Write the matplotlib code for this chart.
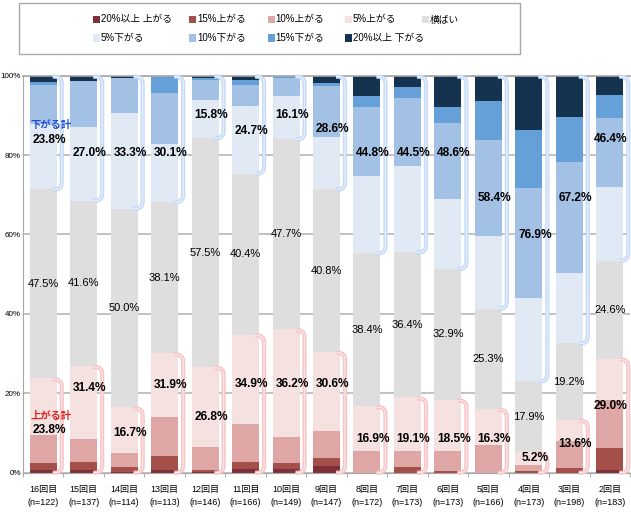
import matplotlib.pyplot as plt
import numpy as np
from matplotlib.path import Path
from matplotlib.patches import PathPatch, Rectangle
from matplotlib.transforms import IdentityTransform

plt.rcParams['font.family'] = ['Liberation Sans', 'Noto Sans CJK JP']

rounds = ['16回目', '15回目', '14回目', '13回目', '12回目', '11回目', '10回目', '9回目',
          '8回目', '7回目', '6回目', '5回目', '4回目', '3回目', '2回目']
n_resp = [122, 137, 114, 113, 146, 166, 149, 147, 172, 173, 173, 166, 173, 198, 183]

series_names = ['20%以上 上がる', '15%上がる', '10%上がる', '5%上がる', '横ばい',
                '5%下がる', '10%下がる', '15%下がる', '20%以上 下がる']

# stacked shares, bottom to top
up20 = [0.8, 0.6, 0.3, 0.8, 0.3, 0.9, 0.9, 1.7, 0.0, 0.0, 0.0, 0.0, 0.0, 0.0, 0.7]
up15 = [1.6, 2.1, 1.1, 3.4, 0.5, 1.8, 1.6, 2.1, 0.0, 1.5, 0.5, 0.0, 0.5, 1.2, 5.6]
up10 = [7.1, 5.8, 3.6, 9.7, 5.7, 9.6, 6.5, 6.7, 5.5, 4.0, 5.0, 7.0, 1.4, 6.8, 11.9]
up5 = [14.2, 18.3, 11.4, 16.1, 20.1, 22.4, 27.0, 19.9, 11.2, 13.4, 12.9, 9.1, 3.2, 5.3, 10.5]
flat = [47.5, 41.6, 50.0, 38.1, 57.5, 40.4, 47.7, 40.8, 38.4, 36.4, 32.9, 25.3, 17.9, 19.2, 24.6]
dn5 = [16.4, 18.4, 24.0, 14.6, 9.6, 16.9, 11.0, 13.1, 19.5, 21.7, 17.5, 18.3, 20.9, 17.7, 18.5]
dn10 = [9.9, 11.7, 8.8, 12.9, 4.9, 5.4, 4.4, 13.0, 17.2, 17.0, 19.2, 24.2, 27.7, 27.9, 17.3]
dn15 = [0.7, 0.0, 0.0, 4.3, 0.6, 1.3, 0.6, 0.7, 2.8, 2.8, 4.0, 9.8, 14.7, 11.2, 5.8]
dn20 = [1.6, 1.3, 0.6, 0.0, 0.6, 1.0, 0.0, 1.8, 5.1, 2.8, 7.9, 6.4, 13.7, 10.4, 4.9]

# printed totals
up_total = [23.8, 31.4, 16.7, 31.9, 26.8, 34.9, 36.2, 30.6, 16.9, 19.1, 18.5, 16.3, 5.2, 13.6, 29.0]
down_total = [23.8, 27.0, 33.3, 30.1, 15.8, 24.7, 16.1, 28.6, 44.8, 44.5, 48.6, 58.4, 76.9, 67.2, 46.4]

# where the total labels sit (in % of the axis)
up_lbl_y = [10.8, 21.3, 10.1, 22.0, 14.0, 22.4, 22.4, 22.4, 8.5, 8.5, 8.5, 8.5, 3.8, 7.2, 16.7]
down_lbl_y = [83.9, 80.5, 80.5, 80.5, 90.2, 86.0, 90.2, 86.5, 80.5, 80.5, 80.5, 69.3, 59.8, 69.3, 84.0]

colors = ['#7e2f39', '#a54f4b', '#dea6a5', '#f6e1e1', '#dedede',
          '#e1e9f4', '#a3c1e5', '#65a0d8', '#15324f']

W, H = 631, 513
fig = plt.figure(figsize=(W / 100, H / 100), dpi=100)
ax = fig.add_axes([23 / W, 40.3 / H, 607 / W, 397 / H])

data = np.array([up20, up15, up10, up5, flat, dn5, dn10, dn15, dn20])
data = data / data.sum(axis=0) * 100  # 100% stacked
x = np.arange(len(rounds))
bw = 0.667
bottom = np.zeros(len(rounds))
for vals, col in zip(data, colors):
    ax.bar(x, vals, bw, bottom=bottom, color=col, linewidth=0, zorder=2)
    bottom += vals

ax.set_xlim(-0.5, len(rounds) - 0.5)
ax.set_ylim(0, 100)
ax.set_yticks(range(0, 101, 20))
ax.set_yticklabels([f'{v}%' for v in range(0, 101, 20)], fontsize=5.8)
ax.set_xticks(x)
ax.set_xticklabels([f'{r}\n(n={n})' for r, n in zip(rounds, n_resp)], fontsize=6.5, linespacing=1.6)
ax.set_xticks(np.arange(-0.5, len(rounds)), minor=True)
ax.tick_params(axis='x', which='major', length=0, pad=9)
ax.tick_params(axis='x', which='minor', length=3, color='#a0a0a0')
ax.tick_params(axis='y', length=1, color='#a0a0a0', pad=0.5)
ax.yaxis.grid(True, color='#b8b8b8', linewidth=1.2)
ax.set_axisbelow(True)
for s in ['left', 'bottom', 'top']:
    ax.spines[s].set_color('#a8a8a8')
ax.spines['top'].set_linewidth(1.2)
ax.spines['right'].set_visible(False)

cum_up = data[:4].sum(axis=0)
cum_flat = data[:5].sum(axis=0)


def bracket(xr_data, y0, y1, c_out, c_in):
    xr, yb = ax.transData.transform((xr_data, y0))
    _, yt = ax.transData.transform((xr_data, y1))
    yt -= 1
    r, off = 7, 5
    xv = xr + off
    verts = [(xr - 4, yt), (xv - r, yt), (xv, yt), (xv, yt - r),
             (xv, yb + r), (xv, yb), (xv - r, yb), (xr - 4, yb)]
    codes = [Path.MOVETO, Path.LINETO, Path.CURVE3, Path.CURVE3,
             Path.LINETO, Path.CURVE3, Path.CURVE3, Path.LINETO]
    p = Path(verts, codes)
    for c, lw in [(c_out, 3.0), (c_in, 1.0)]:
        ax.add_patch(PathPatch(p, transform=IdentityTransform(), fill=False,
                               edgecolor=c, linewidth=lw, zorder=3, clip_on=False))


for i in x:
    bracket(i + bw / 2, cum_flat[i], 100, '#c4d9f6', '#e6effc')
    bracket(i + bw / 2, 0, cum_up[i], '#f7c3c5', '#fde4e4')
    dx = 0.15 if i < len(rounds) - 1 else 0.02
    ax.text(i, (cum_up[i] + cum_flat[i]) / 2, f'{flat[i]:.1f}%', ha='center', va='center',
            fontsize=8, zorder=5)
    ax.text(i + dx, up_lbl_y[i], f'{up_total[i]:.1f}%', ha='center', va='center',
            fontsize=8.6, fontweight='bold', zorder=5)
    ax.text(i + dx, down_lbl_y[i], f'{down_total[i]:.1f}%', ha='center', va='center',
            fontsize=8.6, fontweight='bold', zorder=5)

ax.text(0.2, 14.4, '上がる計', ha='center', va='center', fontsize=7.4,
        fontweight='bold', color='#e0201e', zorder=5)
ax.text(0.2, 87.6, '下がる計', ha='center', va='center', fontsize=7.4,
        fontweight='bold', color='#1f4fd0', zorder=5)

# legend box drawn by hand (fixed column grid like the original)
fig.patches.append(Rectangle((19 / W, 1 - 54 / H), 501 / W, 51 / H, transform=fig.transFigure,
                             fill=False, edgecolor='#a8a8a8', linewidth=1))
col_x = [92.7, 189.3, 267.7, 345, 421.7]
row_y = [19.7, 38]
for k, (name, col) in enumerate(zip(series_names, colors)):
    cx = col_x[k % 5]
    cy = row_y[k // 5]
    fig.patches.append(Rectangle((cx / W, 1 - (cy + 3.5) / H), 7 / W, 7 / H,
                                 transform=fig.transFigure, color=col, linewidth=0))
    fig.text((cx + 8) / W, 1 - cy / H, name, fontsize=7, va='center', ha='left')

fig.savefig('out.png', dpi=100)
